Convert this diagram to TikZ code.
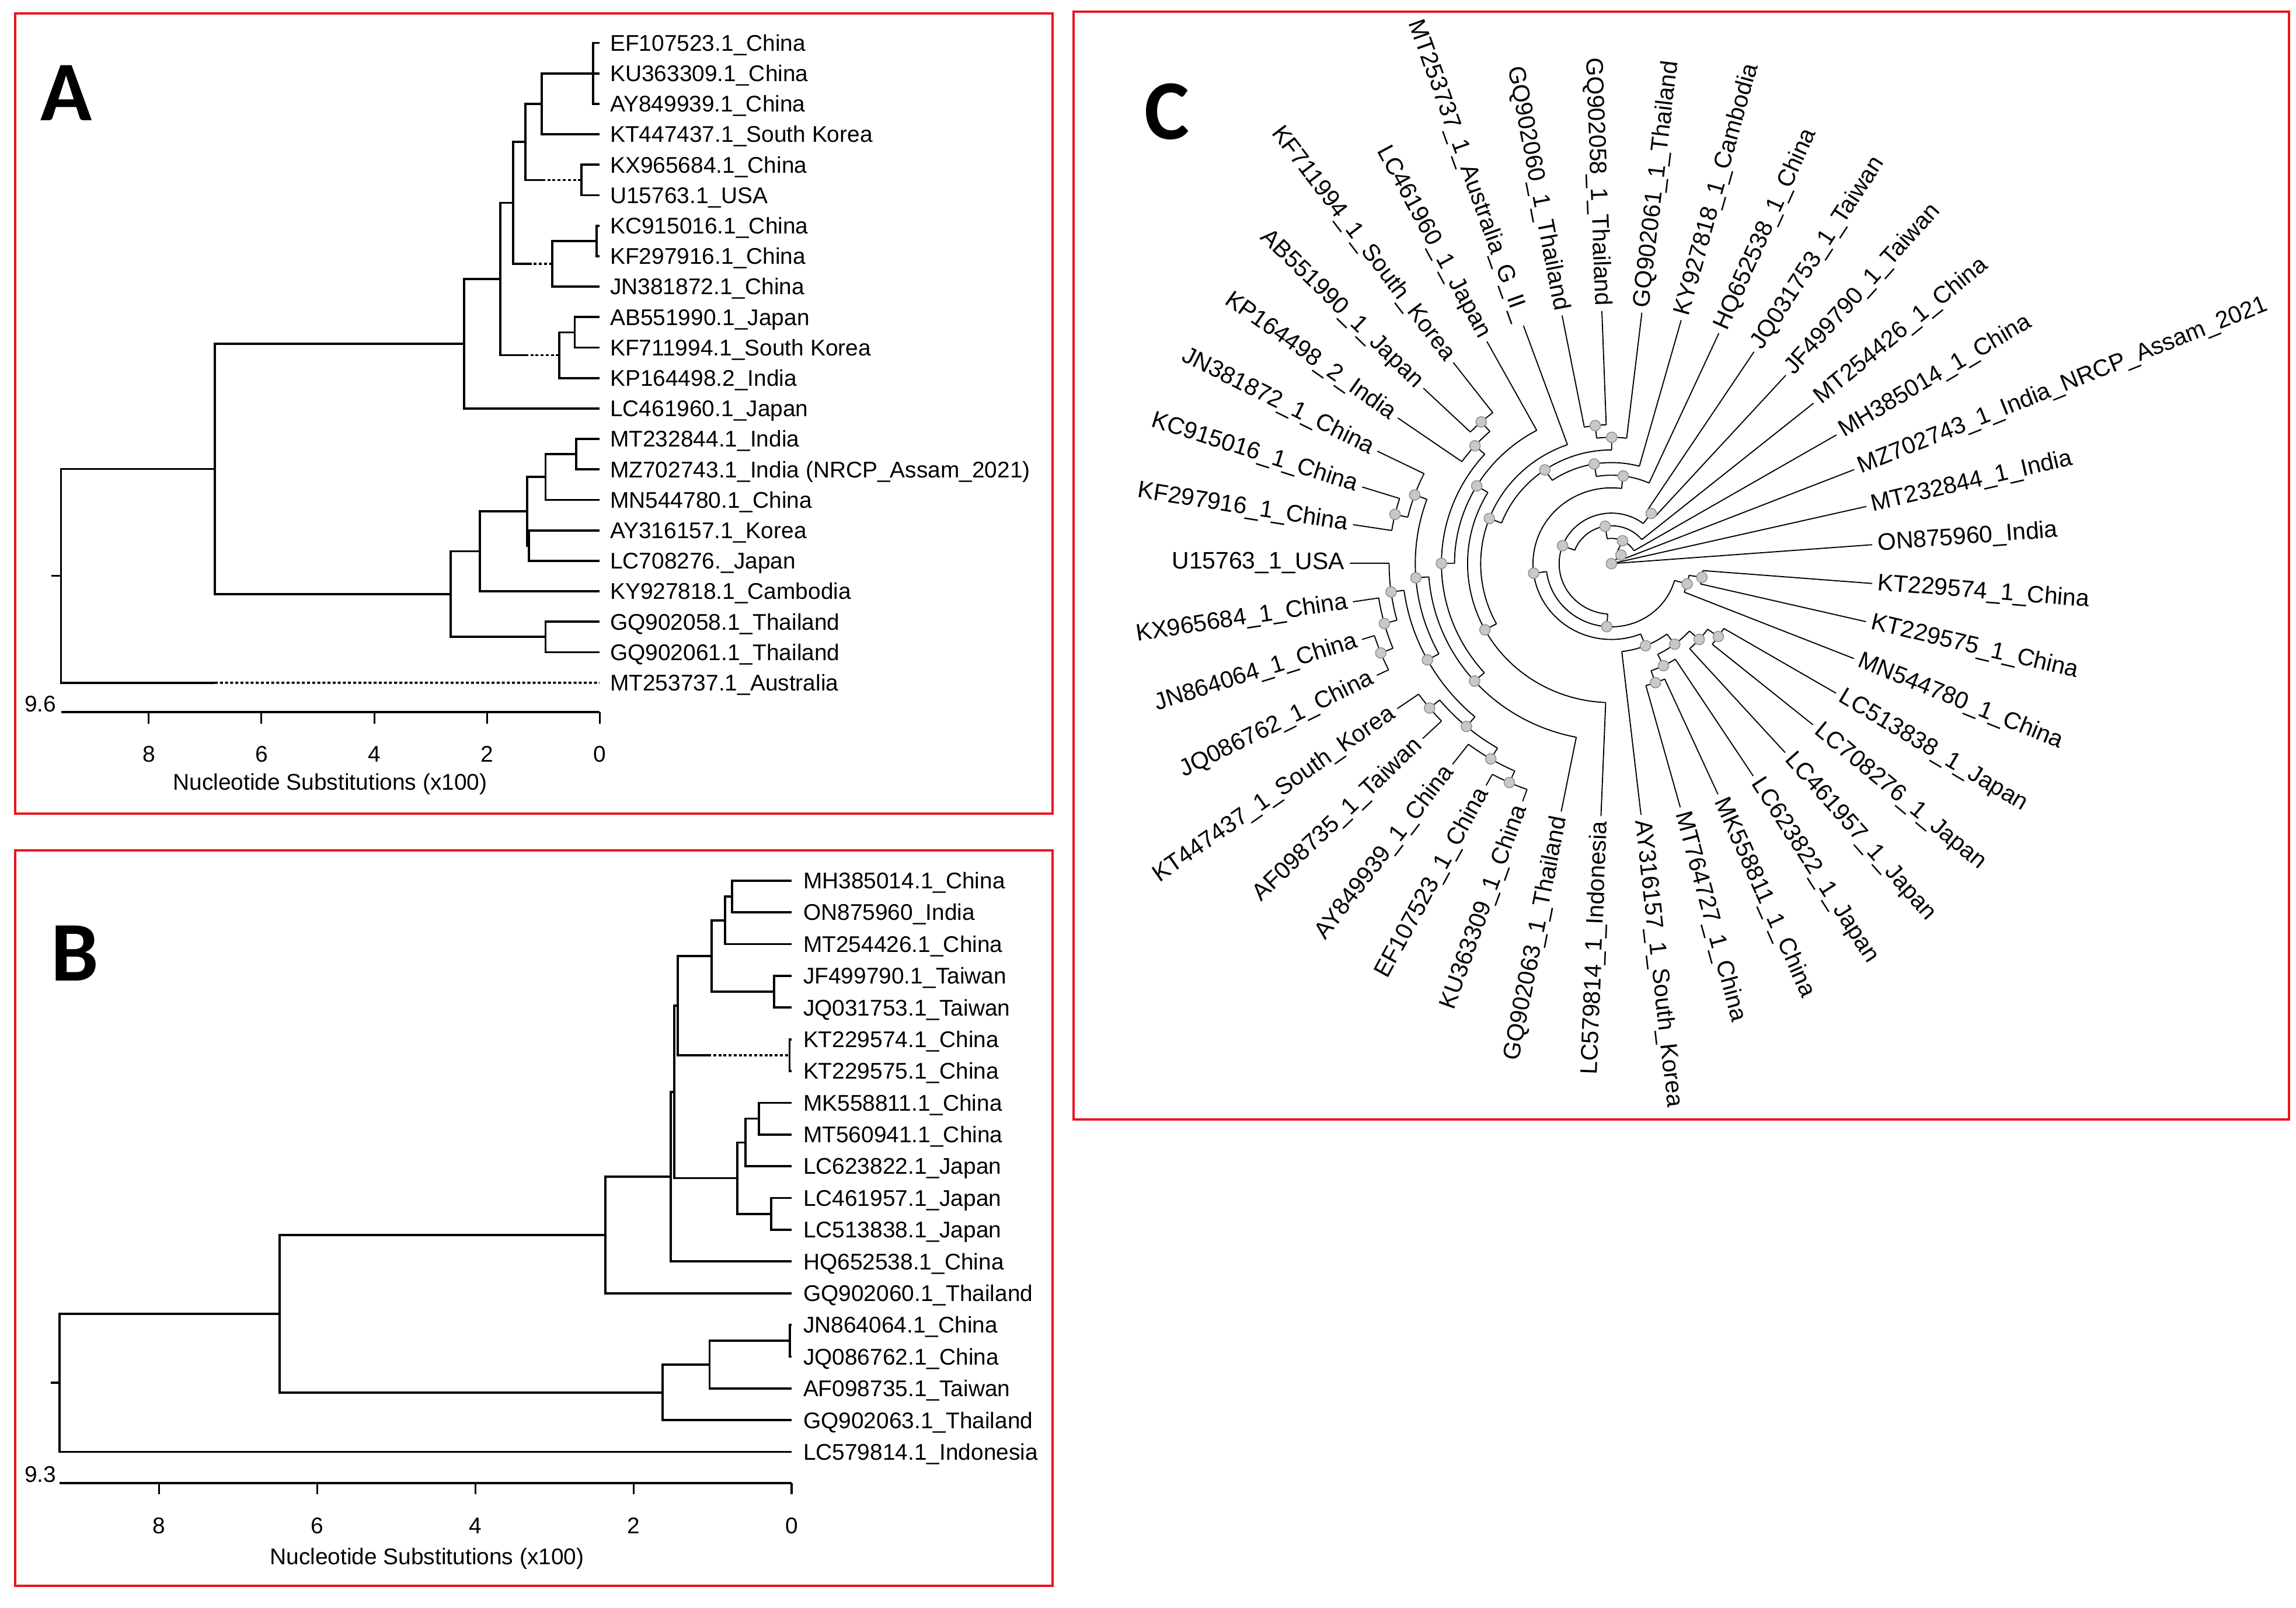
\documentclass[tikz,border=0pt]{standalone}
\usepackage{fontspec}
\setmainfont{Liberation Sans}
\newfontfamily\panelfont{Carlito}
\definecolor{framered}{RGB}{232,22,30}
\definecolor{nodefill}{RGB}{200,200,200}
\definecolor{nodeline}{RGB}{145,145,145}
\newcommand{\cstep}{8.63}
\newcommand{\ctip}{172.6}
% internal nodes of the circular tree: first child angle/last child angle/level/parent level
\newcommand{\cinner}{21.86/64.985/1/0, 30.64/99.33/2/1, 39.42/159.235/3/2, 52.59/265.88/4/3,
  48.2/56.98/5/4, 187.24/344.525/5/4, 82.635/291.845/6/5, 337.94/351.11/6/5,
  346.72/355.5/7/6, 65.76/99.51/7/6, 276.48/307.21/7/6, 74.54/124.48/8/7,
  296.235/318.185/8/7, 89.905/159.05/9/8, 289.65/302.82/9/8, 311.6/324.77/9/8,
  83.32/96.49/10/9, 109.66/208.435/10/9, 285.26/294.04/10/9, 320.38/329.16/10/9,
  92.1/100.88/11/10, 149.17/267.7/11/10, 118.44/179.9/12/11, 138.195/221.605/13/12,
  131.61/144.78/14/13, 184.29/258.92/14/13, 127.22/136.0/15/14, 160.145/208.435/15/14,
  153.56/166.73/16/15, 187.5825/229.2875/16/15, 162.34/171.12/17/16, 179.9/195.265/17/16,
  219.41/239.165/17/16, 188.68/201.85/18/17, 215.02/223.8/18/17, 232.58/245.75/18/17,
  197.46/206.24/19/18, 241.36/250.14/19/18}
\tikzset{
  br/.style={line width=1.5pt},
  dotbr/.style={line width=1.5pt, dash pattern=on 2pt off 1.5pt},
  scaletick/.style={line width=1.2pt},
  tiplab/.style={anchor=base west, inner sep=0pt, yshift=-5.5pt, font=\fontsize{15.5}{18}\selectfont},
  axlab/.style={inner sep=0pt, font=\fontsize{15.5}{18}\selectfont},
  panelbox/.style={draw=framered, line width=1.6pt},
  panellab/.style={anchor=base, inner sep=0pt, font=\panelfont\bfseries\fontsize{58}{60}\selectfont},
  cbr/.style={line width=0.75pt},
  clab/.style={inner sep=0pt, font=\fontsize{16.3}{19}\selectfont},
  cnode/.style={circle, fill=nodefill, draw=nodeline, line width=0.6pt, inner sep=0pt, minimum size=7.2pt}
}
\begin{document}
\begin{tikzpicture}[x=1pt,y=-1pt]
\useasboundingbox (0,0) rectangle (1568,1098);

% ---------------- panel A
\draw[panelbox] (10.2,9.2) rectangle (718.8,555.9);
\node[panellab] (labA) at (45.2,82.4) {A};
\foreach \nm [count=\k from 0] in {EF107523.1\_China, KU363309.1\_China, AY849939.1\_China,
  KT447437.1\_South Korea, KX965684.1\_China, U15763.1\_USA, KC915016.1\_China,
  KF297916.1\_China, JN381872.1\_China, AB551990.1\_Japan, KF711994.1\_South Korea,
  KP164498.2\_India, LC461960.1\_Japan, MT232844.1\_India, {MZ702743.1\_India (NRCP\_Assam\_2021)},
  MN544780.1\_China, AY316157.1\_Korea, LC708276.\_Japan, KY927818.1\_Cambodia,
  GQ902058.1\_Thailand, GQ902061.1\_Thailand, MT253737.1\_Australia}
{
  \coordinate (tA\k) at (409.5,{29.3+20.81*\k});
  \node[tiplab] (nA\k) at (416.5,{29.3+20.81*\k}) {\nm};
}
\coordinate (a1) at (405,50.11);
\coordinate (a2) at (370,70.92);
\coordinate (a3) at (358.7,96.94);
\coordinate (a4) at (397,122.95);
\coordinate (a4s) at (370.3,122.95);
\coordinate (a5) at (350.4,138.56);
\coordinate (a6) at (377.2,180.17);
\coordinate (a6s) at (361,180.17);
\coordinate (a7) at (407.3,164.57);
\coordinate (a8) at (341.6,190.58);
\coordinate (a9) at (381.8,242.6);
\coordinate (a9s) at (358.7,242.6);
\coordinate (a10) at (392.5,227.0);
\coordinate (a11) at (317,234.8);
\coordinate (a12) at (146.7,320.32);
\coordinate (a13) at (393.4,310.24);
\coordinate (a14) at (372.6,325.84);
\coordinate (a15) at (361.2,372.67);
\coordinate (a16) at (360,349.26);
\coordinate (a17) at (327.7,376.57);
\coordinate (a18) at (372.6,435.1);
\coordinate (a19) at (307.8,405.84);
\coordinate (rA) at (41.7,393.3);
\coordinate (aMs) at (146.7,466.31);
\draw[br] (tA0) -| (a1) |- (tA2) (a1 |- tA1) -- (tA1);
\draw[br] (a1) -| (a2) |- (tA3);
\draw[br] (tA4) -| (a4) |- (tA5);
\draw[br] (a2) -| (a3) |- (a4s);
\draw[dotbr] (a4s) -- (a4);
\draw[br] (tA6) -| (a7) |- (tA7);
\draw[br] (a7) -| (a6) |- (tA8);
\draw[br] (a3) -| (a5) |- (a6s);
\draw[dotbr] (a6s) -- (a6);
\draw[br] (tA9) -| (a10) |- (tA10);
\draw[br] (a10) -| (a9) |- (tA11);
\draw[br] (a5) -| (a8) |- (a9s);
\draw[dotbr] (a9s) -- (a9);
\draw[br] (a8) -| (a11) |- (tA12);
\draw[br] (tA13) -| (a13) |- (tA14);
\draw[br] (a13) -| (a14) |- (tA15);
\draw[br] (tA16) -| (a15) |- (tA17);
\draw[br] (a14) -| (a16) |- (a15);
\draw[br] (a16) -| (a17) |- (tA18);
\draw[br] (tA19) -| (a18) |- (tA20);
\draw[br] (a17) -| (a19) |- (a18);
\draw[br] (a11) -| (a12) |- (a19);
\draw[br] (a12) -| (rA) |- (aMs);
\draw[dotbr] (aMs) -- (tA21);
\draw[br] (rA) -- ++(-6.7,0);
% scale
\draw[br] (41.7,486.5) -- (409.6,486.5);
\foreach \v in {0,2,4,6,8}
{
  \draw[scaletick] ({409.6-38.5*\v},486.5) -- ++(0,8);
  \node[axlab] at ({409.6-38.5*\v},515) {\v};
}
\node[axlab, anchor=east] (sA) at (38.5,481) {9.6};
\node[axlab] (xA) at (225.4,535.4) {Nucleotide Substitutions (x100)};

% ---------------- panel B
\draw[panelbox] (10.2,580.9) rectangle (718.8,1083.3);
\node[panellab] (labB) at (51,669.9) {B};
\foreach \nm [count=\k from 0] in {MH385014.1\_China, ON875960\_India, MT254426.1\_China,
  JF499790.1\_Taiwan, JQ031753.1\_Taiwan, KT229574.1\_China, KT229575.1\_China,
  MK558811.1\_China, MT560941.1\_China, LC623822.1\_Japan, LC461957.1\_Japan,
  LC513838.1\_Japan, HQ652538.1\_China, GQ902060.1\_Thailand, JN864064.1\_China,
  JQ086762.1\_China, AF098735.1\_Taiwan, GQ902063.1\_Thailand, LC579814.1\_Indonesia}
{
  \coordinate (tB\k) at (540.6,{601.5+21.68*\k});
  \node[tiplab] (nB\k) at (548.4,{601.5+21.68*\k}) {\nm};
}
\coordinate (b1) at (499.8,612.34);
\coordinate (b2) at (495.2,628.6);
\coordinate (b3) at (528.5,677.38);
\coordinate (b4) at (486,652.99);
\coordinate (b5) at (539.2,720.74);
\coordinate (b5s) at (483.6,720.74);
\coordinate (b6) at (462.8,686.87);
\coordinate (b7) at (518.3,764.1);
\coordinate (b8) at (509.1,780.36);
\coordinate (b9) at (526.7,829.14);
\coordinate (b10) at (503.5,804.75);
\coordinate (b11) at (460.5,745.81);
\coordinate (b12) at (458.2,803.74);
\coordinate (b13) at (413.3,843.54);
\coordinate (b14) at (539.5,915.86);
\coordinate (b15) at (484.6,932.12);
\coordinate (b16) at (452.6,951.09);
\coordinate (b17) at (191.1,897.3);
\coordinate (rB) at (40.7,944.52);
\draw[br] (tB0) -| (b1) |- (tB1);
\draw[br] (b1) -| (b2) |- (tB2);
\draw[br] (tB3) -| (b3) |- (tB4);
\draw[br] (b2) -| (b4) |- (b3);
\draw[br] (tB5) -| (b5) |- (tB6);
\draw[br] (b4) -| (b6) |- (b5s);
\draw[dotbr] (b5s) -- (b5);
\draw[br] (tB7) -| (b7) |- (tB8);
\draw[br] (b7) -| (b8) |- (tB9);
\draw[br] (tB10) -| (b9) |- (tB11);
\draw[br] (b8) -| (b10) |- (b9);
\draw[br] (b6) -| (b11) |- (b10);
\draw[br] (b11) -| (b12) |- (tB12);
\draw[br] (b12) -| (b13) |- (tB13);
\draw[br] (tB14) -| (b14) |- (tB15);
\draw[br] (b14) -| (b15) |- (tB16);
\draw[br] (b15) -| (b16) |- (tB17);
\draw[br] (b13) -| (b17) |- (b16);
\draw[br] (b17) -| (rB) |- (tB18);
\draw[br] (rB) -- ++(-6,0);
% scale
\draw[br] (40.7,1013) -- (540.6,1013);
\foreach \v in {0,2,4,6,8}
{
  \draw[scaletick] ({540.6-53.98*\v},1013) -- ++(0,7.7);
  \node[axlab] at ({540.6-53.98*\v},1042.1) {\v};
}
\node[axlab, anchor=east] (sB) at (38.5,1007) {9.3};
\node[axlab] (xB) at (291.6,1064.5) {Nucleotide Substitutions (x100)};

% ---------------- panel C
\draw[panelbox] (733,8) rectangle (1563.3,764.6);
\node[panellab] (labC) at (797,95.2) {C};
\begin{scope}[shift={(1100.5,385)}, x=1.035pt, y=1pt]
  % arcs and stems of the inner nodes
  \foreach \lo/\hi/\lv/\pl in \cinner
  {
    \pgfmathsetmacro\ma{(\lo+\hi)/2}
    \draw[cbr] (\lo:{\lv*\cstep}) arc[start angle=\lo, end angle=\hi, radius={\lv*\cstep}];
    \draw[cbr] (\ma:{\pl*\cstep}) -- (\ma:{\lv*\cstep});
  }
  % leaves, right half
  \foreach \nm/\lp [count=\j from 0] in {ON875960\_India/0, MT232844\_1\_India/0,
    MZ702743\_1\_India\_NRCP\_Assam\_2021/1, MH385014\_1\_China/2, MT254426\_1\_China/3,
    JF499790\_1\_Taiwan/5, JQ031753\_1\_Taiwan/5, HQ652538\_1\_China/7,
    KY927818\_1\_Cambodia/8, GQ902061\_1\_Thailand/10}
  {
    \pgfmathsetmacro\ang{4.3+8.78*\j}
    \draw[cbr] (\ang:{\lp*\cstep}) -- (\ang:\ctip);
    \node[clab, anchor=west, rotate=\ang] (cL\j) at (\ang:176) {\nm};
  }
  % leaves, left half
  \foreach \nm/\lp [count=\j from 10] in {GQ902058\_1\_Thailand/11, GQ902060\_1\_Thailand/11,
    MT253737\_1\_Australia\_G\_II\_/10, LC461960\_1\_Japan/12, KF711994\_1\_South\_Korea/15,
    AB551990\_1\_Japan/15, KP164498\_2\_India/14, JN381872\_1\_China/16, KC915016\_1\_China/17,
    KF297916\_1\_China/17, U15763\_1\_USA/17, KX965684\_1\_China/18, JN864064\_1\_China/19,
    JQ086762\_1\_China/19, KT447437\_1\_South\_Korea/18, AF098735\_1\_Taiwan/18,
    AY849939\_1\_China/18, EF107523\_1\_China/19, KU363309\_1\_China/19,
    GQ902063\_1\_Thailand/14, LC579814\_1\_Indonesia/11}
  {
    \pgfmathsetmacro\ang{4.3+8.78*\j}
    \draw[cbr] (\ang:{\lp*\cstep}) -- (\ang:\ctip);
    \node[clab, anchor=east, rotate={\ang-180}] (cL\j) at (\ang:176) {\nm};
  }
  % leaves, lower right
  \foreach \nm/\lp [count=\j from 31] in {AY316157\_1\_South\_Korea/7, MT764727\_1\_China/10,
    MK558811\_1\_China/10, LC623822\_1\_Japan/9, LC461957\_1\_Japan/9, LC708276\_1\_Japan/10,
    LC513838\_1\_Japan/10, MN544780\_1\_China/6, KT229575\_1\_China/7, KT229574\_1\_China/7}
  {
    \pgfmathsetmacro\ang{4.3+8.78*\j}
    \draw[cbr] (\ang:{\lp*\cstep}) -- (\ang:\ctip);
    \node[clab, anchor=west, rotate=\ang] (cL\j) at (\ang:176) {\nm};
  }
  % node dots
  \node[cnode] (croot) at (0,0) {};
  \foreach \lo/\hi/\lv/\pl in \cinner
  {
    \pgfmathsetmacro\ma{(\lo+\hi)/2}
    \node[cnode] at (\ma:{\lv*\cstep}) {};
  }
\end{scope}
\end{tikzpicture}
\end{document}
